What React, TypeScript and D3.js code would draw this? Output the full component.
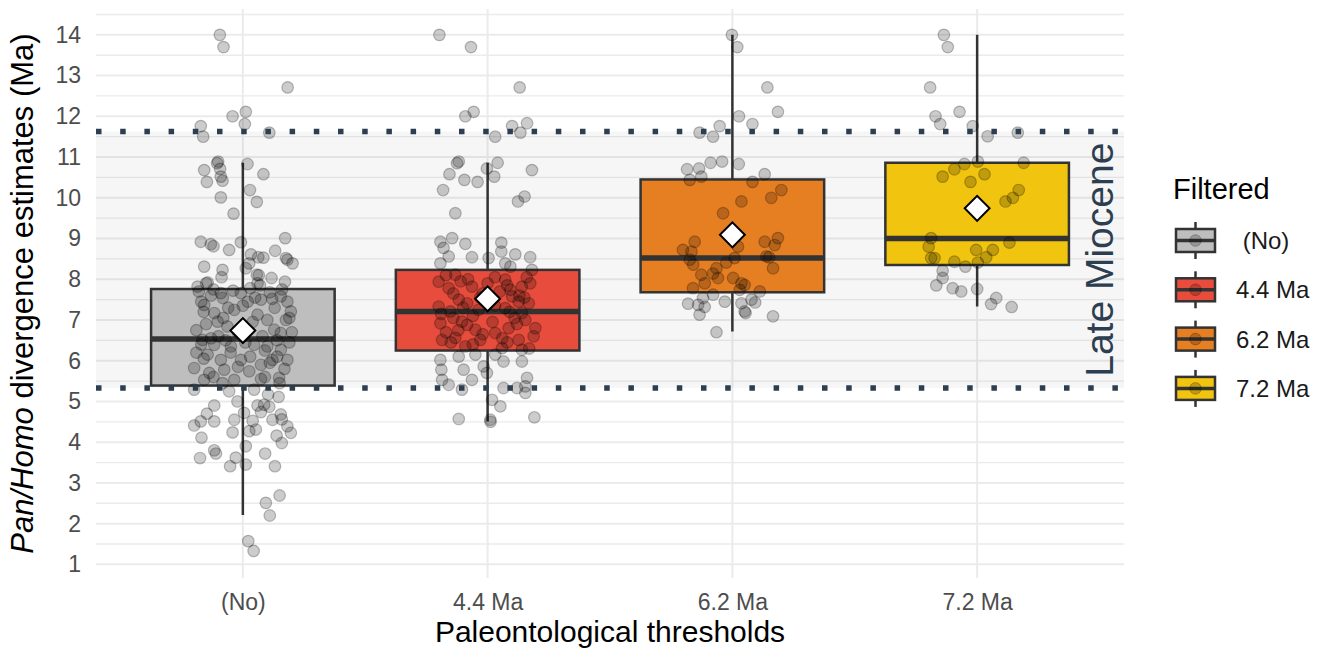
import React, { useEffect, useRef } from "react";
import * as d3 from "d3";

// categories and legend
const categories = ["(No)", "4.4 Ma", "6.2 Ma", "7.2 Ma"];
const legendLabels = [" (No)", "4.4 Ma", "6.2 Ma", "7.2 Ma"];
const boxColors = ["#bebebe", "#e74c3c", "#e67e22", "#f1c40f"];
const yTicks = [1, 2, 3, 4, 5, 6, 7, 8, 9, 10, 11, 12, 13, 14];

// box statistics (Ma)
const whiskerLow = [2.21, 4.51, 6.72, 7.33];
const q1 = [5.39, 6.25, 7.68, 8.35];
const medians = [6.53, 7.21, 8.52, 9.0];
const q3 = [7.76, 8.23, 10.45, 10.86];
const whiskerHigh = [10.86, 10.86, 14.0, 14.0];
const means = [6.74, 7.52, 9.09, 9.74];

// Late Miocene limits
const lateMiocene = [5.33, 11.63];

// jittered estimates: [horizontal jitter (category units), value]
const pointsNo = [
  [-0.094, 14.0], [-0.079, 13.7], [0.183, 12.71], [-0.042, 12.0], [0.012, 12.11], [0.008, 11.81],
  [-0.172, 11.76], [-0.162, 11.5], [0.108, 11.6], [-0.101, 10.89], [-0.105, 10.85], [-0.093, 10.71],
  [-0.158, 10.68], [-0.147, 10.39], [-0.09, 10.52], [-0.083, 10.42], [0.019, 10.83], [0.084, 10.58],
  [0.029, 10.19], [0.057, 9.9], [-0.09, 10.01], [-0.038, 9.61], [-0.172, 8.92], [-0.131, 8.86],
  [-0.12, 8.81], [-0.056, 8.72], [-0.008, 8.91], [0.173, 9.01], [0.132, 8.7], [0.033, 8.61],
  [0.063, 8.54], [0.084, 8.53], [0.176, 8.52], [0.182, 8.48], [0.203, 8.39], [0.026, 8.39],
  [-0.158, 8.31], [-0.083, 8.23], [0.012, 8.27], [-0.087, 8.05], [0.057, 8.11], [0.065, 8.1],
  [0.117, 8.03], [-0.144, 7.92], [0.172, 7.94], [0.06, 7.9], [-0.185, 7.82], [-0.15, 7.9],
  [-0.09, 7.66], [-0.082, 7.54], [-0.008, 7.66], [0.074, 7.5], [0.155, 7.58], [0.182, 7.45],
  [-0.158, 7.37], [-0.117, 7.17], [-0.035, 7.25], [0.06, 7.13], [0.1, 7.0], [0.196, 7.21],
  [0.176, 7.0], [-0.103, 6.96], [-0.063, 6.84], [0.128, 6.76], [0.155, 6.68], [-0.165, 6.51],
  [-0.17, 6.4], [-0.117, 6.39], [-0.049, 6.35], [0.046, 6.39], [0.1, 6.35], [0.155, 6.27],
  [-0.144, 6.15], [-0.09, 6.02], [-0.008, 6.02], [0.074, 5.9], [0.121, 6.02], [0.182, 6.02],
  [-0.199, 5.82], [-0.137, 5.7], [-0.076, 5.78], [0.026, 5.74], [-0.035, 5.53], [0.074, 5.55],
  [0.148, 5.58], [-0.158, 5.53], [-0.083, 5.45], [-0.199, 5.29], [-0.056, 5.25], [0.046, 5.29],
  [0.103, 5.17], [0.146, 5.11], [-0.022, 5.0], [-0.117, 4.9], [0.06, 4.9], [0.087, 4.92],
  [0.108, 4.87], [-0.147, 4.7], [0.005, 4.72], [0.074, 4.74], [0.155, 4.68], [0.159, 4.56],
  [-0.172, 4.51], [-0.117, 4.51], [-0.035, 4.55], [0.04, 4.52], [0.121, 4.55], [0.182, 4.39],
  [0.196, 4.23], [-0.199, 4.41], [-0.042, 4.24], [0.026, 4.27], [0.053, 4.31], [0.138, 4.16],
  [0.159, 3.98], [-0.169, 4.11], [0.012, 3.9], [-0.117, 3.8], [-0.11, 3.72], [-0.175, 3.61],
  [0.091, 3.72], [-0.029, 3.62], [-0.052, 3.41], [0.012, 3.45], [0.131, 3.41], [0.15, 2.69],
  [0.094, 2.51], [0.11, 2.2], [0.022, 1.57], [0.044, 1.33], [-0.13, 7.6], [-0.06, 7.3],
  [0.02, 7.45], [0.13, 7.3], [-0.15, 6.9], [-0.02, 6.7], [0.08, 6.6], [0.19, 6.45],
  [-0.19, 6.2], [-0.1, 6.6], [0.04, 6.95], [0.14, 6.1], [-0.18, 7.7], [-0.12, 7.75],
  [-0.04, 7.72], [0.03, 7.78], [0.11, 7.68], [0.16, 7.75], [-0.16, 7.2], [-0.08, 7.05],
  [0.0, 7.35], [0.05, 7.55], [0.12, 7.52], [0.19, 7.05], [-0.19, 6.75], [-0.13, 6.55],
  [-0.07, 6.5], [0.01, 6.45], [0.09, 6.25], [0.14, 6.5], [0.2, 6.7], [-0.16, 6.05],
  [-0.05, 6.2], [0.03, 6.1], [0.11, 5.95], [0.17, 5.8], [-0.12, 5.6], [-0.02, 5.85],
  [0.09, 5.6], [0.15, 5.45], [-0.17, 7.45], [0.07, 7.85],
];

const points44 = [
  [-0.197, 14.0], [-0.068, 13.7], [0.131, 12.71], [-0.057, 12.11], [-0.091, 12.0], [0.1, 11.76],
  [0.161, 11.83], [0.134, 11.6], [0.031, 11.5], [-0.118, 10.89], [-0.125, 10.85], [-0.003, 10.72],
  [0.041, 10.86], [0.027, 10.52], [-0.156, 10.58], [-0.095, 10.44], [-0.041, 10.39], [0.181, 10.68],
  [-0.182, 10.19], [0.151, 10.03], [0.124, 9.91], [-0.132, 9.62], [-0.193, 8.92], [-0.145, 9.01],
  [-0.18, 8.77], [-0.159, 8.56], [-0.091, 8.87], [0.056, 8.9], [0.056, 8.68], [-0.064, 8.54],
  [0.004, 8.52], [-0.193, 8.39], [0.113, 8.61], [0.174, 8.54], [0.072, 8.39], [0.093, 8.31],
  [0.181, 8.23], [-0.2, 7.94], [-0.132, 8.11], [-0.159, 7.78], [-0.064, 7.82], [0.072, 7.99],
  [0.093, 7.74], [0.14, 7.82], [0.174, 7.9], [-0.118, 7.5], [-0.084, 7.41], [0.1, 7.58],
  [0.127, 7.45], [-0.2, 7.33], [-0.152, 7.21], [-0.037, 7.25], [0.072, 7.29], [0.14, 7.17],
  [0.168, 7.41], [-0.193, 6.92], [-0.105, 6.96], [-0.084, 6.88], [-0.05, 6.76], [0.031, 6.68],
  [0.086, 6.8], [0.154, 7.0], [0.195, 6.8], [-0.186, 6.51], [-0.132, 6.56], [-0.03, 6.51],
  [0.127, 6.51], [0.188, 6.6], [-0.091, 6.35], [0.059, 6.31], [0.14, 6.27], [-0.193, 6.02],
  [-0.118, 6.1], [-0.05, 6.15], [0.031, 6.15], [0.065, 5.98], [0.14, 5.98], [-0.189, 5.78],
  [-0.098, 5.78], [-0.016, 5.86], [-0.003, 5.7], [-0.186, 5.53], [-0.064, 5.53], [0.161, 5.58],
  [-0.159, 5.41], [-0.105, 5.29], [0.065, 5.33], [0.12, 5.33], [0.154, 5.37], [0.154, 5.21],
  [0.018, 5.04], [0.052, 4.88], [-0.118, 4.57], [0.011, 4.55], [0.012, 4.5], [0.191, 4.61],
  [-0.11, 7.95], [-0.02, 7.65], [0.03, 8.05], [0.11, 7.05], [-0.14, 7.05], [0.06, 6.55],
  [-0.06, 7.1], [0.09, 7.2], [-0.17, 6.7], [0.02, 6.95], [-0.17, 8.1], [-0.08, 8.0],
  [0.0, 7.9], [0.08, 7.85], [0.16, 8.05], [-0.14, 7.65], [-0.03, 7.55], [0.05, 7.7],
  [0.13, 7.6], [-0.19, 7.15], [-0.1, 7.3], [0.03, 7.35], [0.12, 6.9], [-0.15, 6.45],
  [-0.06, 6.4], [0.08, 6.45], [0.17, 6.3], [-0.02, 6.65], [0.15, 7.55], [-0.12, 6.75],
];

const points62 = [
  [-0.002, 14.0], [0.02, 13.7], [0.143, 12.71], [0.186, 12.11], [0.027, 12.0], [-0.052, 11.76],
  [-0.134, 11.6], [-0.079, 11.5], [0.082, 11.81], [-0.185, 10.7], [-0.136, 10.72], [-0.089, 10.86],
  [-0.042, 10.89], [0.026, 10.83], [0.132, 10.58], [-0.174, 10.44], [-0.127, 10.52], [0.082, 10.39],
  [0.2, 10.19], [0.159, 10.0], [0.037, 9.91], [-0.038, 9.62], [-0.154, 8.92], [-0.202, 8.72],
  [-0.167, 8.68], [0.132, 8.92], [0.186, 9.01], [0.173, 8.84], [0.023, 8.8], [0.009, 8.52],
  [-0.174, 8.48], [-0.16, 8.36], [0.139, 8.56], [0.15, 8.54], [-0.025, 8.41], [-0.065, 8.27],
  [0.166, 8.27], [-0.079, 8.14], [-0.127, 8.11], [-0.059, 8.03], [0.003, 8.03], [-0.113, 7.9],
  [0.037, 7.9], [0.05, 7.86], [-0.161, 7.78], [0.03, 7.74], [-0.079, 7.62], [0.112, 7.7],
  [-0.12, 7.54], [-0.031, 7.45], [0.037, 7.41], [0.078, 7.5], [0.093, 7.43], [-0.181, 7.4],
  [-0.14, 7.37], [-0.113, 7.32], [-0.134, 7.13], [0.05, 7.21], [0.054, 7.17], [0.166, 7.09],
  [-0.065, 6.7],
];

const points72 = [
  [-0.136, 14.0], [-0.12, 13.7], [-0.192, 12.71], [-0.072, 12.11], [-0.17, 12.0], [-0.151, 11.81],
  [-0.018, 11.76], [0.043, 11.51], [0.166, 11.6], [0.003, 10.89], [-0.052, 10.83], [-0.093, 10.7],
  [0.19, 10.86], [-0.141, 10.52], [0.03, 10.58], [-0.027, 10.39], [0.17, 10.19], [0.146, 10.0],
  [0.116, 9.91], [-0.188, 9.01], [-0.198, 8.8], [-0.188, 8.52], [-0.174, 8.52], [0.132, 8.9],
  [-0.004, 8.72], [0.064, 8.72], [0.037, 8.54], [-0.093, 8.43], [-0.048, 8.31], [0.003, 8.41],
  [-0.141, 8.21], [-0.141, 8.03], [-0.167, 7.85], [-0.1, 7.78], [-0.065, 7.7], [0.0, 7.76],
  [0.078, 7.54], [0.057, 7.39], [0.141, 7.32],
];

const pointGroups = [pointsNo, points44, points62, points72];

const W = 1326;
const H = 650;
const panel = { left: 96, right: 1124, top: 9, bottom: 578 };
const font = "'Liberation Sans', Arial, sans-serif";

const App = () => {
  const svgRef = useRef<SVGSVGElement>(null);

  useEffect(() => {
    const svg = d3.select(svgRef.current);
    svg.selectAll("*").remove();

    const x = d3.scaleLinear().domain([0.4, 4.6]).range([panel.left, panel.right]);
    const y = d3.scaleLinear().domain([0.665, 14.635]).range([panel.bottom, panel.top]);
    const halfBox = x(1.375) - x(1);

    // grid
    const grid = svg.append("g");
    grid
      .selectAll(".minor")
      .data(d3.range(1.5, 15, 1))
      .enter()
      .append("line")
      .attr("x1", panel.left)
      .attr("x2", panel.right)
      .attr("y1", (d) => y(d))
      .attr("y2", (d) => y(d))
      .attr("stroke", "#ebebeb")
      .attr("stroke-width", 1.3);
    grid
      .selectAll(".major")
      .data(yTicks)
      .enter()
      .append("line")
      .attr("x1", panel.left)
      .attr("x2", panel.right)
      .attr("y1", (d) => y(d))
      .attr("y2", (d) => y(d))
      .attr("stroke", "#ebebeb")
      .attr("stroke-width", 2);
    grid
      .selectAll(".vert")
      .data(categories)
      .enter()
      .append("line")
      .attr("x1", (d, i) => x(i + 1))
      .attr("x2", (d, i) => x(i + 1))
      .attr("y1", panel.top)
      .attr("y2", panel.bottom)
      .attr("stroke", "#ebebeb")
      .attr("stroke-width", 2);

    // Late Miocene band
    svg
      .append("rect")
      .attr("x", panel.left)
      .attr("width", panel.right - panel.left)
      .attr("y", y(lateMiocene[1]))
      .attr("height", y(lateMiocene[0]) - y(lateMiocene[1]))
      .attr("fill", "#000")
      .attr("fill-opacity", 0.035);

    // boxplots
    const boxes = svg
      .selectAll(".box")
      .data(categories)
      .enter()
      .append("g")
      .attr("class", "box");
    boxes
      .append("line")
      .attr("x1", (d, i) => x(i + 1))
      .attr("x2", (d, i) => x(i + 1))
      .attr("y1", (d, i) => y(whiskerLow[i]))
      .attr("y2", (d, i) => y(whiskerHigh[i]))
      .attr("stroke", "#333333")
      .attr("stroke-width", 2.5);
    boxes
      .append("rect")
      .attr("x", (d, i) => x(i + 1) - halfBox)
      .attr("width", halfBox * 2)
      .attr("y", (d, i) => y(q3[i]))
      .attr("height", (d, i) => y(q1[i]) - y(q3[i]))
      .attr("fill", (d, i) => boxColors[i])
      .attr("stroke", "#333333")
      .attr("stroke-width", 2.5);
    boxes
      .append("line")
      .attr("x1", (d, i) => x(i + 1) - halfBox)
      .attr("x2", (d, i) => x(i + 1) + halfBox)
      .attr("y1", (d, i) => y(medians[i]))
      .attr("y2", (d, i) => y(medians[i]))
      .attr("stroke", "#333333")
      .attr("stroke-width", 5.5);

    // jittered points
    pointGroups.forEach((pts, i) => {
      svg
        .append("g")
        .selectAll("circle")
        .data(pts)
        .enter()
        .append("circle")
        .attr("cx", (d) => x(i + 1 + d[0]))
        .attr("cy", (d) => y(d[1]))
        .attr("r", 5.8)
        .attr("fill", "#000")
        .attr("fill-opacity", 0.2)
        .attr("stroke", "#000")
        .attr("stroke-opacity", 0.25)
        .attr("stroke-width", 1.2);
    });

    // means
    svg
      .selectAll(".mean")
      .data(means)
      .enter()
      .append("path")
      .attr("d", d3.symbol(d3.symbolSquare, 310)())
      .attr("transform", (d, i) => `translate(${x(i + 1)},${y(d)}) rotate(45)`)
      .attr("fill", "white")
      .attr("stroke", "black")
      .attr("stroke-width", 2);

    // dotted lines
    svg
      .selectAll(".hl")
      .data(lateMiocene)
      .enter()
      .append("line")
      .attr("x1", panel.left)
      .attr("x2", panel.right)
      .attr("y1", (d) => y(d))
      .attr("y2", (d) => y(d))
      .attr("stroke", "#2c3e50")
      .attr("stroke-width", 5.5)
      .attr("stroke-dasharray", "5.5,18.7");

    svg
      .append("text")
      .attr("transform", `translate(${x(4.5)},${y((lateMiocene[0] + lateMiocene[1]) / 2)}) rotate(-90)`)
      .attr("text-anchor", "middle")
      .attr("dy", "0.35em")
      .attr("font-family", font)
      .attr("font-size", 39)
      .attr("fill", "#2c3e50")
      .text("Late Miocene");

    // axes
    const yAxis = svg
      .append("g")
      .attr("transform", `translate(${panel.left},0)`)
      .call(d3.axisLeft(y).tickValues(yTicks).tickSize(0).tickPadding(15));
    yAxis.select(".domain").remove();
    yAxis
      .selectAll("text")
      .attr("font-family", font)
      .attr("font-size", 23)
      .attr("fill", "#4d4d4d");

    const xAxis = svg
      .append("g")
      .attr("transform", `translate(0,${panel.bottom})`)
      .call(
        d3
          .axisBottom(x)
          .tickValues([1, 2, 3, 4])
          .tickFormat((d) => categories[(d as number) - 1])
          .tickSize(0)
          .tickPadding(16)
      );
    xAxis.select(".domain").remove();
    xAxis
      .selectAll("text")
      .attr("font-family", font)
      .attr("font-size", 23)
      .attr("fill", "#4d4d4d");

    // axis titles
    svg
      .append("text")
      .attr("x", (panel.left + panel.right) / 2)
      .attr("y", 642)
      .attr("text-anchor", "middle")
      .attr("font-family", font)
      .attr("font-size", 30)
      .attr("fill", "black")
      .text("Paleontological thresholds");

    const yTitle = svg
      .append("text")
      .attr("transform", `translate(33,${(panel.top + panel.bottom) / 2}) rotate(-90)`)
      .attr("text-anchor", "middle")
      .attr("font-family", font)
      .attr("font-size", 31)
      .attr("fill", "black");
    yTitle.append("tspan").attr("font-style", "italic").text("Pan/Homo");
    yTitle.append("tspan").text(" divergence estimates (Ma)");

    // legend
    const legend = svg.append("g");
    legend
      .append("text")
      .attr("x", 1173)
      .attr("y", 199)
      .attr("font-family", font)
      .attr("font-size", 29)
      .attr("fill", "black")
      .text("Filtered");

    const keyX = 1195.5;
    const keys = legend
      .selectAll(".key")
      .data(legendLabels)
      .enter()
      .append("g")
      .attr("transform", (d, i) => `translate(${keyX},${240.5 + i * 49.3})`);
    keys
      .append("line")
      .attr("y1", -18.5)
      .attr("y2", 18.5)
      .attr("stroke", "#333333")
      .attr("stroke-width", 2.5);
    keys
      .append("rect")
      .attr("x", -19.5)
      .attr("y", -11.5)
      .attr("width", 39)
      .attr("height", 23)
      .attr("fill", (d, i) => boxColors[i])
      .attr("stroke", "#333333")
      .attr("stroke-width", 2.5);
    keys
      .append("line")
      .attr("x1", -19.5)
      .attr("x2", 19.5)
      .attr("stroke", "#333333")
      .attr("stroke-width", 3.5);
    keys
      .append("circle")
      .attr("r", 5.8)
      .attr("fill", "#000")
      .attr("fill-opacity", 0.2)
      .attr("stroke", "#000")
      .attr("stroke-opacity", 0.25);
    keys
      .append("text")
      .attr("x", 1236 - keyX)
      .attr("dy", "0.35em")
      .attr("font-family", font)
      .attr("font-size", 24)
      .attr("fill", "#1a1a1a")
      .style("white-space", "pre")
      .text((d) => d);
  }, []);

  return (
    <svg
      ref={svgRef}
      width={W}
      height={H}
      style={{ position: "absolute", left: 0, top: 0, background: "white" }}
    />
  );
};

export default App;
